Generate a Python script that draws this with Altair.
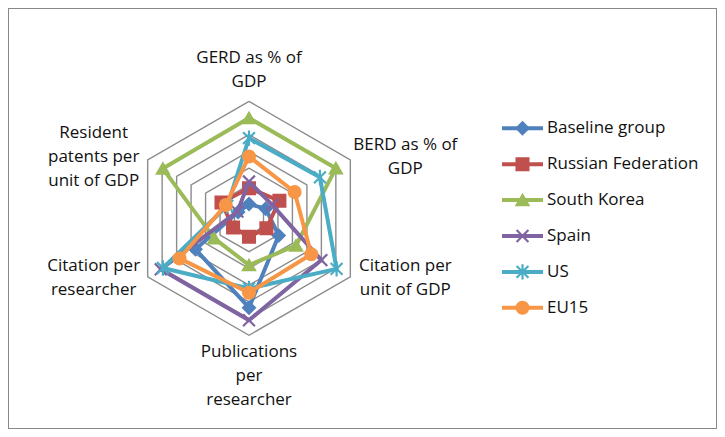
import altair as alt
import pandas as pd

# ---------------- data ----------------
categories = ["GERD as % of GDP", "BERD as % of GDP", "Citation per unit of GDP",
              "Publications per researcher", "Citation per researcher",
              "Resident patents per unit of GDP"]
axis_labels = ["GERD as % of\nGDP", "BERD as % of\nGDP", "Citation per\nunit of GDP",
               "Publications\nper\nresearcher", "Citation per\nresearcher",
               "Resident\npatents per\nunit of GDP"]
series_names = ["Baseline group", "Russian Federation", "South Korea", "Spain", "US", "EU15"]

baseline = [0.85, 1.15, 2.05, 5.35, 3.7, 0.75]
russia = [1.8, 2.1, 1.2, 1.1, 1.1, 1.9]
korea = [6.0, 6.0, 3.25, 2.8, 2.4, 5.95]
spain = [2.2, 1.6, 5.0, 6.1, 6.1, 0.8]
us = [4.8, 4.9, 6.05, 4.2, 5.95, 1.5]
eu15 = [3.7, 3.15, 4.3, 4.45, 4.8, 1.6]
grid_levels = [1, 2, 3, 4, 5, 6, 7]

series_values = [baseline, russia, korea, spain, us, eu15]

# ---------------- styles / layout ----------------
colors = ["#4F81BD", "#C0504D", "#9BBB59", "#8064A2", "#4BACC6", "#F79646"]
shapes = ["diamond", "square", "triangle-up",
          "M-1,-1L1,1M-1,1L1,-1",
          "M-1,-1L1,1M-1,1L1,-1M0,-1.3L0,1.3",
          "circle"]
FONT = "Open Sans"
FS = 17
LH = 24
W, H = 709, 421
CX, CY = 241.0, 210.3          # radar centre inside the plot area (px)
RMAX = max(grid_levels)
PXU = 117.0 / RMAX             # px per unit
LINE_W = 4
MSIZE = 140

xdom = [-CX / PXU, (W - CX) / PXU]
ydom = [-(H - CY) / PXU, CY / PXU]
XS = alt.Scale(domain=xdom, nice=False, zero=False)
YS = alt.Scale(domain=ydom, nice=False, zero=False)

n_axes = len(categories)

# long table of series values, closed polygons
rows = []
for s, vals in zip(series_names, series_values):
    for j in range(n_axes + 1):
        rows.append({"series": s, "j": j, "value": vals[j % n_axes]})
df = pd.DataFrame(rows)

grid_rows = []
for lv in grid_levels:
    for j in range(n_axes + 1):
        grid_rows.append({"level": lv, "j": j})
grid_df = pd.DataFrame(grid_rows)

label_df = pd.DataFrame({"label": axis_labels, "j": list(range(n_axes))})
leg_df = pd.DataFrame({"series": series_names, "i": list(range(len(series_names)))})

color_enc = alt.Color("series:N", scale=alt.Scale(domain=series_names, range=colors), legend=None)
stroke_enc = alt.Stroke("series:N", scale=alt.Scale(domain=series_names, range=colors), legend=None)
shape_enc = alt.Shape("series:N", scale=alt.Scale(domain=series_names, range=shapes), legend=None)

ang = "PI/2 - datum.j*PI/3"

grid = alt.Chart(grid_df).transform_calculate(
    x=f"datum.level*cos({ang})", y=f"datum.level*sin({ang})"
).mark_line(color="#8c8c8c", strokeWidth=1.4).encode(
    x=alt.X("x:Q", scale=XS, axis=None),
    y=alt.Y("y:Q", scale=YS, axis=None),
    order="j:O",
    detail="level:N",
)

base = alt.Chart(df).transform_calculate(
    x=f"datum.value*cos({ang})", y=f"datum.value*sin({ang})"
)

layers = [grid]
for s in series_names:
    sub = base.transform_filter(alt.datum.series == s)
    line = sub.mark_line(strokeWidth=LINE_W, strokeJoin="round").encode(
        x=alt.X("x:Q", scale=XS, axis=None),
        y=alt.Y("y:Q", scale=YS, axis=None),
        order="j:O",
        color=color_enc,
    )
    pts = sub.transform_filter(alt.datum.j < n_axes).mark_point(
        filled=True, size=MSIZE, strokeWidth=2.2, opacity=1
    ).encode(
        x=alt.X("x:Q", scale=XS, axis=None),
        y=alt.Y("y:Q", scale=YS, axis=None),
        color=color_enc,
        stroke=stroke_enc,
        shape=shape_enc,
    )
    layers += [line, pts]

# axis category labels: block centre offset from the vertex, then shift to the first line
labels = alt.Chart(label_df).transform_calculate(
    c=f"cos({ang})", s=f"sin({ang})",
    n="length(split(datum.label, '\\n'))",
).transform_calculate(
    x=f"{RMAX}*datum.c + (datum.c > 0.1 ? {55/PXU} : datum.c < -0.1 ? {-54/PXU} : 0)",
    y=(f"{RMAX}*datum.s + (datum.s > 0.9 ? {31/PXU} : datum.s < -0.9 ? {-41/PXU} : "
       f"datum.s > 0 ? {3/PXU} : {-1.5/PXU}) + (datum.n - 1)*{LH/2/PXU}"),
).mark_text(
    lineBreak="\n", font=FONT, fontSize=FS, lineHeight=LH, color="#111111",
    align="center", baseline="middle"
).encode(
    x=alt.X("x:Q", scale=XS, axis=None),
    y=alt.Y("y:Q", scale=YS, axis=None),
    text="label:N",
)
layers.append(labels)

# legend (drawn with the chart's own scales)
leg = alt.Chart(leg_df).transform_calculate(
    ly=f"({CY} - (120.3 + 35.9*datum.i))/{PXU}",
    lx1=f"{(494 - CX)/PXU}", lx2=f"{(535 - CX)/PXU}",
    mx=f"{(514.5 - CX)/PXU}", tx=f"{(539 - CX)/PXU}",
)
leg_line = leg.mark_rule(strokeWidth=LINE_W).encode(
    x=alt.X("lx1:Q", scale=XS, axis=None), x2="lx2:Q",
    y=alt.Y("ly:Q", scale=YS, axis=None), color=color_enc,
)
leg_pt = leg.mark_point(filled=True, size=MSIZE, strokeWidth=2.2, opacity=1).encode(
    x=alt.X("mx:Q", scale=XS, axis=None),
    y=alt.Y("ly:Q", scale=YS, axis=None),
    color=color_enc, stroke=stroke_enc, shape=shape_enc,
)
leg_txt = leg.mark_text(font=FONT, fontSize=FS, color="#111111", align="left", baseline="middle").encode(
    x=alt.X("tx:Q", scale=XS, axis=None),
    y=alt.Y("ly:Q", scale=YS, axis=None),
    text="series:N",
)
layers += [leg_line, leg_pt, leg_txt]

chart = alt.layer(*layers).properties(
    width=W, height=H, padding=0,
    autosize=alt.AutoSizeParams(type="none"),
).configure_view(stroke="#888888", strokeWidth=2)

chart.save("out.html", embed_options={"renderer": "svg", "actions": False})
